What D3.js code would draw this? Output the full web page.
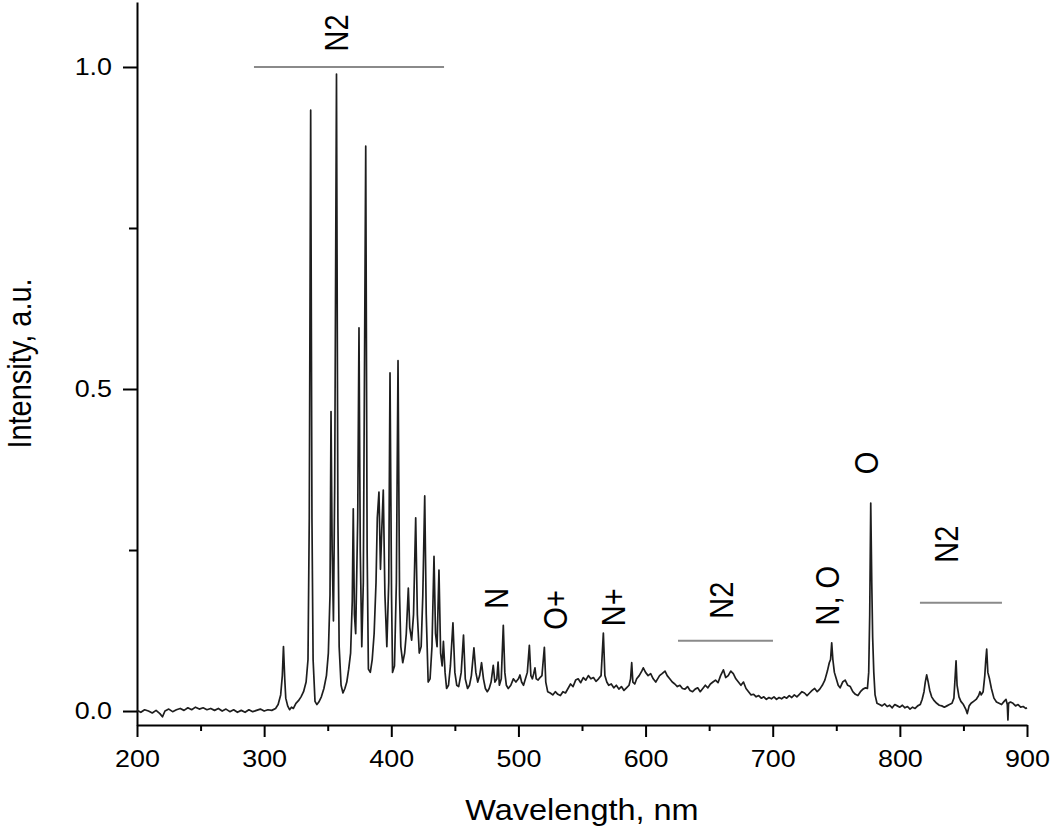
<!DOCTYPE html>
<html>
<head>
<meta charset="utf-8">
<script src="https://cdn.jsdelivr.net/npm/d3@7"></script>
<style>
  body { margin: 0; background: #fff; }
  svg { display: block; }
  text { font-family: "Liberation Sans", Arial, sans-serif; fill: #000; }
</style>
</head>
<body>
<script>
const width = 1050;
const height = 829;

// emission spectrum, [wavelength nm, intensity a.u.]
const spectrum = [
  [200,0.001],[203,-0.002],[206,0.002],[209,0.000],[212,-0.003],[215,0.001],[218,-0.004],[220,-0.009],[222,0.000],
  [225,0.003],[228,-0.001],[231,0.002],[234,0.004],[237,0.001],[240,0.005],[243,0.002],[246,0.006],[249,0.003],
  [252,0.005],[255,0.002],[258,0.004],[261,0.001],[264,0.004],[267,0.000],[270,0.003],[273,-0.001],[276,0.002],
  [279,-0.002],[282,0.001],[285,-0.002],[288,0.002],[291,-0.001],[294,0.001],[297,0.003],[300,0.000],[303,0.002],
  [306,0.001],[309,0.004],[311,0.010],[313,0.025],[314.3,0.055],[315.2,0.100],[316.2,0.050],[317,0.020],
  [318.5,0.008],[320,0.002],[321.5,0.006],[323,0.004],[325,0.012],[327,0.016],[329,0.022],[331,0.030],[333,0.045],
  [334.5,0.080],[335.5,0.30],[336.6,0.933],[337.6,0.30],[338.5,0.08],[340,0.015],[341.5,0.010],[343,0.014],
  [345,0.022],[347,0.035],[349,0.055],[350.5,0.09],[351.8,0.18],[352.6,0.465],[353.5,0.25],[354.5,0.14],
  [355.5,0.35],[356.9,0.989],[358,0.30],[359,0.10],[360.5,0.04],[362,0.028],[363.5,0.035],[365,0.045],
  [366.5,0.065],[368,0.09],[369.3,0.17],[370.1,0.314],[371,0.15],[372,0.12],[373.6,0.30],[374.6,0.595],
  [375.6,0.25],[376.8,0.10],[378,0.20],[379.9,0.877],[381,0.25],[382,0.065],[383.5,0.06],[385,0.08],
  [386.5,0.12],[388,0.20],[389,0.30],[390.3,0.34],[391.5,0.22],[392.5,0.28],[393.7,0.343],[395,0.18],
  [396.5,0.10],[398,0.20],[399,0.525],[400.2,0.18],[401,0.06],[402.5,0.07],[404,0.20],[405.3,0.544],
  [406.5,0.18],[407.5,0.10],[409,0.075],[410.5,0.09],[411.8,0.12],[413.4,0.191],[414.5,0.13],[416,0.11],
  [417.5,0.15],[419.2,0.30],[420.5,0.15],[422,0.09],[423.5,0.10],[424.8,0.18],[426.3,0.334],[427.5,0.15],
  [429,0.045],[430.5,0.05],[432,0.10],[433.6,0.24],[434.8,0.12],[436,0.10],[437.5,0.219],[438.8,0.09],
  [440,0.07],[441,0.108],[442.3,0.06],[443.5,0.035],[445,0.04],[446.5,0.07],[448.5,0.137],[450,0.06],
  [451.5,0.04],[453,0.038],[455,0.06],[456.8,0.118],[458.2,0.05],[460,0.035],[461.5,0.04],[463,0.055],
  [465,0.098],[466.5,0.06],[468,0.045],[469.5,0.055],[471,0.075],[472.5,0.05],[474,0.035],[475.5,0.030],
  [477,0.035],[478.5,0.045],[480.2,0.071],[481.5,0.045],[483,0.05],[484,0.076],[485,0.04],[486.5,0.05],
  [488.1,0.133],[489.3,0.06],[490.5,0.04],[492,0.035],[494,0.040],[496,0.050],[498,0.045],[500,0.050],
  [501.2,0.056],[502.5,0.045],[504,0.040],[505.5,0.050],[507,0.060],[508.6,0.102],[509.8,0.055],[511,0.050],
  [512,0.058],[513,0.067],[514,0.050],[515.5,0.048],[517,0.052],[518.5,0.055],[520.4,0.099],[521.5,0.045],
  [523,0.030],[525,0.028],[527,0.025],[529,0.030],[531,0.026],[533,0.024],[535,0.030],[537,0.028],[539,0.035],
  [541,0.042],[543,0.038],[545,0.048],[547,0.050],[549,0.044],[551,0.052],[553,0.048],[555,0.055],[557,0.050],
  [559,0.052],[561,0.046],[563,0.050],[565,0.055],[566.8,0.121],[568,0.055],[569.5,0.045],[571,0.040],
  [573,0.042],[575,0.036],[577,0.040],[579,0.034],[581,0.038],[583,0.032],[585,0.036],[587,0.040],[588.2,0.050],
  [589.1,0.075],[590,0.045],[591.5,0.042],[593,0.050],[595,0.055],[597,0.062],[598.2,0.067],[600,0.060],
  [602,0.055],[604,0.058],[606,0.050],[608,0.045],[609.5,0.050],[611,0.055],[613,0.058],[615.3,0.062],
  [617,0.055],[619,0.050],[621,0.045],[623,0.042],[625,0.038],[627,0.040],[629,0.035],[631,0.034],[633,0.038],
  [635,0.032],[637,0.030],[639,0.034],[641,0.036],[643,0.030],[645,0.035],[647,0.040],[649,0.036],[651,0.042],
  [653,0.045],[655,0.048],[657,0.044],[659,0.055],[661.2,0.064],[663,0.052],[665,0.055],[667,0.062],[669,0.058],
  [671,0.050],[673,0.045],[675,0.040],[677,0.045],[679,0.035],[681,0.030],[683,0.025],[685,0.026],[687,0.022],
  [689,0.024],[691,0.020],[693,0.022],[695,0.018],[697,0.021],[699,0.019],[701,0.022],[703,0.018],[705,0.021],
  [707,0.019],[709,0.022],[711,0.020],[713,0.024],[715,0.021],[717,0.025],[719,0.022],[721,0.026],[723,0.030],
  [725,0.028],[727,0.024],[729,0.028],[731,0.032],[733,0.035],[735,0.030],[737,0.034],[739,0.040],[741,0.048],
  [743,0.062],[744.5,0.075],[745.5,0.080],[746.4,0.106],[747.3,0.080],[748.5,0.060],[750,0.050],[751.5,0.040],
  [753,0.036],[755,0.045],[757,0.048],[759,0.040],[761,0.038],[763,0.030],[765,0.026],[767,0.024],[769,0.030],
  [771,0.034],[773,0.036],[774.5,0.035],[775.5,0.06],[776.3,0.15],[777.1,0.323],[777.9,0.20],[778.6,0.115],
  [779.5,0.06],[780.5,0.025],[782,0.012],[784,0.010],[786,0.008],[788,0.011],[790,0.007],[792,0.009],[794,0.005],
  [796,0.010],[798,0.008],[800,0.006],[802,0.009],[804,0.005],[806,0.007],[808,0.003],[810,0.006],[812,0.004],
  [814,0.008],[816,0.010],[817.5,0.018],[819,0.030],[820,0.045],[821.1,0.056],[822.3,0.045],[823.5,0.032],
  [825,0.022],[827,0.016],[829,0.012],[831,0.009],[833,0.008],[835,0.006],[837,0.008],[839,0.010],[841,0.012],
  [842.5,0.020],[843.4,0.050],[844.2,0.078],[845,0.040],[846.5,0.022],[848,0.015],[850,0.010],[852,0.002],
  [853,-0.004],[854.5,0.008],[856,0.012],[858,0.015],[860,0.018],[862,0.024],[863,0.030],[864,0.025],
  [865.5,0.030],[866.8,0.055],[867.6,0.080],[868.3,0.096],[869.2,0.060],[870.5,0.050],[872,0.035],[874,0.020],
  [876,0.014],[878,0.012],[880,0.010],[882,0.015],[883.5,0.018],[884.5,0.010],[885,-0.014],[885.5,0.012],
  [887,0.014],[889,0.012],[891,0.008],[893,0.010],[895,0.006],[897,0.007],[899,0.004],[900,0.005]
];

const xMajor = [200, 300, 400, 500, 600, 700, 800, 900];
const xMinor = [250, 350, 450, 550, 650, 750, 850];
const yMajor = [0.0, 0.5, 1.0];
const yMinor = [0.25, 0.75];

// band labels: text, wavelength, intensity (centre of label)
const labels = [
  ["N2", 366, 1.053],
  ["N", 491.8, 0.175],
  ["O+", 538.2, 0.157],
  ["N+", 583.8, 0.161],
  ["N2", 668.8, 0.172],
  ["N, O", 752.2, 0.179],
  ["O", 782.8, 0.385],
  ["N2", 845.7, 0.259]
];
// band ranges: from, to, intensity
const bands = [
  [292, 441.5, 1.0],
  [625.5, 700.2, 0.109],
  [815.8, 880.3, 0.168]
];

const stretch = 1.12;

const x = d3.scaleLinear().domain([200, 900]).range([137, 1027]);
const y = d3.scaleLinear().domain([-0.0217, 1.1009]).range([725, 2]);

const svg = d3.select("body").append("svg")
  .attr("width", width)
  .attr("height", height);

// axes
const gx = svg.append("g").attr("transform", `translate(0,${y.range()[0]})`);
gx.append("g")
  .call(d3.axisBottom(x).tickValues(xMinor).tickSize(6).tickFormat(""))
  .call(g => g.select(".domain").remove());
gx.append("g")
  .call(d3.axisBottom(x).tickValues(xMajor).tickSize(12).tickSizeOuter(0).tickFormat(d3.format("d")));

const gy = svg.append("g").attr("transform", `translate(${x.range()[0]},0)`);
gy.append("g")
  .call(d3.axisLeft(y).tickValues(yMinor).tickSize(8).tickFormat(""))
  .call(g => g.select(".domain").remove());
gy.append("g")
  .call(d3.axisLeft(y).tickValues(yMajor).tickSize(14).tickSizeOuter(0).tickFormat(d3.format(".1f")));

svg.selectAll(".domain").attr("stroke", "#000").attr("stroke-width", 2);
svg.selectAll(".tick line").attr("stroke", "#000").attr("stroke-width", 2);

gx.selectAll(".tick text")
  .attr("font-size", 24)
  .attr("font-family", "Liberation Sans, Arial, sans-serif")
  .attr("y", 42).attr("dy", 0)
  .attr("transform", `scale(${stretch},1)`);
gy.selectAll(".tick text")
  .attr("font-size", 24)
  .attr("font-family", "Liberation Sans, Arial, sans-serif")
  .attr("x", -25 / stretch)
  .attr("transform", `scale(${stretch},1)`);

// spectrum
const line = d3.line().x(d => x(d[0])).y(d => y(d[1]));
svg.append("path")
  .datum(spectrum)
  .attr("fill", "none")
  .attr("stroke", "#1e1e1e")
  .attr("stroke-width", 1.7)
  .attr("stroke-linejoin", "round")
  .attr("d", line);

// band range lines
svg.selectAll(".band")
  .data(bands)
  .enter().append("line")
    .attr("class", "band")
    .attr("x1", d => x(d[0]))
    .attr("x2", d => x(d[1]))
    .attr("y1", d => y(d[2]))
    .attr("y2", d => y(d[2]))
    .attr("stroke", "#8a8a8a")
    .attr("stroke-width", 2);

// rotated labels
svg.selectAll(".lbl")
  .data(labels)
  .enter().append("text")
    .attr("class", "lbl")
    .attr("transform", d => `translate(${x(d[1])},${y(d[2])}) scale(${stretch},1) rotate(-90)`)
    .attr("text-anchor", "middle")
    .attr("font-size", 29)
    .text(d => d[0]);

// axis titles
svg.append("text")
  .attr("transform", `translate(${(x.range()[0] + x.range()[1]) / 2},820) scale(${stretch},1)`)
  .attr("text-anchor", "middle")
  .attr("font-size", 29)
  .text("Wavelength, nm");

svg.append("text")
  .attr("transform", `translate(31,${(y.range()[0] + y.range()[1]) / 2}) scale(${stretch},1) rotate(-90)`)
  .attr("text-anchor", "middle")
  .attr("font-size", 29)
  .text("Intensity, a.u.");
</script>
</body>
</html>
